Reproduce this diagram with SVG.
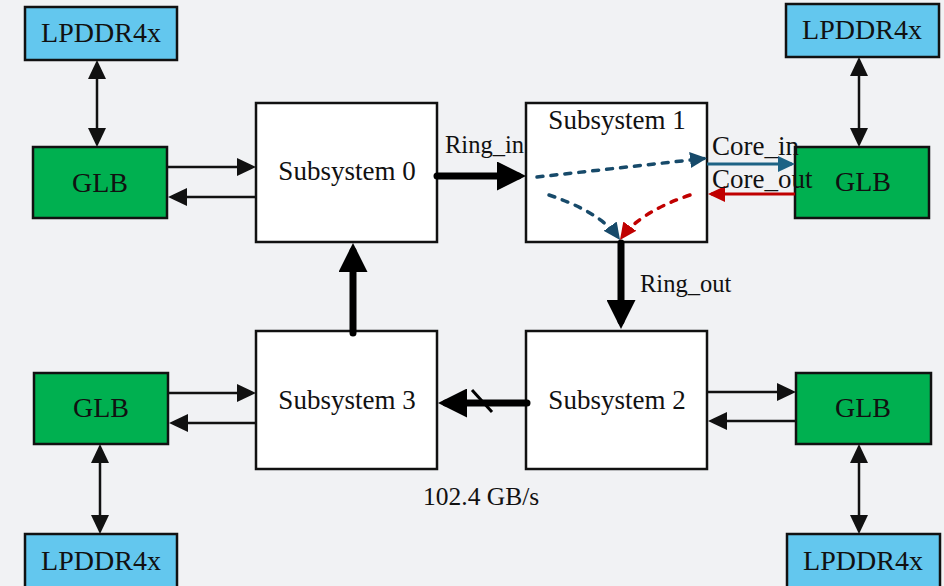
<svg xmlns="http://www.w3.org/2000/svg" width="944" height="586" viewBox="0 0 944 586">
  <style>
    text { font-family: "Liberation Serif", "Times New Roman", serif; fill: #111; }
    .box { stroke: #111; stroke-width: 2.5; }
    .sub { fill: #ffffff; }
    .glb { fill: #00b050; }
    .mem { fill: #63c7ee; }
    .lbl { font-size: 27px; text-anchor: middle; }
    .big { font-size: 28px; }
    .note { font-size: 24.5px; }
    .core { font-size: 27px; }
    .thin { stroke: #111; stroke-width: 2.5; fill: none; }
    .thick { stroke: #000; stroke-width: 7; fill: none; stroke-linecap: round; }
    .dash { stroke-width: 3.5; fill: none; stroke-dasharray: 6 8; stroke-linecap: round; }
  </style>
  <defs>
    <marker id="ah" markerUnits="userSpaceOnUse" markerWidth="19" markerHeight="18" refX="15" refY="9" orient="auto-start-reverse">
      <path d="M0,0 L19,9 L0,18 z" fill="#111"/>
    </marker>
    <marker id="ahThick" markerUnits="userSpaceOnUse" markerWidth="29" markerHeight="29" refX="21" refY="14.5" orient="auto">
      <path d="M0,0 L29,14.5 L0,29 z" fill="#000"/>
    </marker>
    <marker id="ahNavy" markerUnits="userSpaceOnUse" markerWidth="17" markerHeight="16" refX="14" refY="8" orient="auto">
      <path d="M0,0 L17,8 L0,16 z" fill="#174a6a"/>
    </marker>
    <marker id="ahBlue" markerUnits="userSpaceOnUse" markerWidth="17" markerHeight="16" refX="14" refY="8" orient="auto">
      <path d="M0,0 L17,8 L0,16 z" fill="#1d6385"/>
    </marker>
    <marker id="ahRed" markerUnits="userSpaceOnUse" markerWidth="17" markerHeight="16" refX="14" refY="8" orient="auto">
      <path d="M0,0 L17,8 L0,16 z" fill="#c00000"/>
    </marker>
  </defs>

  <rect width="944" height="586" fill="#f1f2f4"/>

  <!-- memory and buffer nodes -->
  <g id="mem-tl"><rect class="box mem" x="25" y="7" width="152" height="53"/><text class="lbl big" x="101" y="42">LPDDR4x</text></g>
  <g id="mem-tr"><rect class="box mem" x="786" y="4" width="153" height="53"/><text class="lbl big" x="862" y="39">LPDDR4x</text></g>
  <g id="mem-bl"><rect class="box mem" x="25" y="534" width="152" height="60"/><text class="lbl big" x="101" y="570">LPDDR4x</text></g>
  <g id="mem-br"><rect class="box mem" x="787" y="534" width="153" height="60"/><text class="lbl big" x="863" y="570">LPDDR4x</text></g>

  <g id="glb-tl"><rect class="box glb" x="33" y="147" width="134" height="71"/><text class="lbl big" x="100" y="192">GLB</text></g>
  <g id="glb-tr"><rect class="box glb" x="795" y="147" width="134" height="71"/><text class="lbl big" x="863" y="191">GLB</text></g>
  <g id="glb-bl"><rect class="box glb" x="34" y="373" width="134" height="71"/><text class="lbl big" x="101" y="417">GLB</text></g>
  <g id="glb-br"><rect class="box glb" x="796" y="373" width="135" height="71"/><text class="lbl big" x="863" y="417">GLB</text></g>

  <!-- subsystems -->
  <g id="sub0"><rect class="box sub" x="256" y="103" width="181" height="139"/><text class="lbl" x="347" y="180">Subsystem 0</text></g>
  <g id="sub1"><rect class="box sub" x="526" y="103" width="181" height="139"/><text class="lbl" x="617" y="129">Subsystem 1</text></g>
  <g id="sub2"><rect class="box sub" x="526" y="331" width="181" height="138"/><text class="lbl" x="617" y="409">Subsystem 2</text></g>
  <g id="sub3"><rect class="box sub" x="256" y="331" width="181" height="138"/><text class="lbl" x="347" y="409">Subsystem 3</text></g>

  <!-- connectors -->
  <g id="connectors">
    <!-- LPDDR4x <-> GLB -->
    <line class="thin" x1="97" y1="64" x2="97" y2="143" marker-start="url(#ah)" marker-end="url(#ah)"/>
    <line class="thin" x1="859" y1="61" x2="859" y2="143" marker-start="url(#ah)" marker-end="url(#ah)"/>
    <line class="thin" x1="100" y1="448" x2="100" y2="530" marker-start="url(#ah)" marker-end="url(#ah)"/>
    <line class="thin" x1="859" y1="448" x2="859" y2="530" marker-start="url(#ah)" marker-end="url(#ah)"/>

    <!-- GLB <-> subsystem -->
    <line class="thin" x1="167" y1="167" x2="252" y2="167" marker-end="url(#ah)"/>
    <line class="thin" x1="256" y1="197" x2="172" y2="197" marker-end="url(#ah)"/>
    <line class="thin" x1="168" y1="393" x2="252" y2="393" marker-end="url(#ah)"/>
    <line class="thin" x1="256" y1="423" x2="173" y2="423" marker-end="url(#ah)"/>
    <line class="thin" x1="707" y1="392" x2="792" y2="392" marker-end="url(#ah)"/>
    <line class="thin" x1="796" y1="421" x2="712" y2="421" marker-end="url(#ah)"/>

    <!-- ring -->
    <line class="thick" x1="437" y1="176" x2="518" y2="176" marker-end="url(#ahThick)"/>
    <line class="thick" x1="621" y1="243" x2="621" y2="321" marker-end="url(#ahThick)"/>
    <line class="thick" x1="527" y1="403" x2="446" y2="403" marker-end="url(#ahThick)"/>
    <line x1="472" y1="390" x2="492" y2="412" stroke="#000" stroke-width="3"/>
    <line class="thick" x1="353" y1="333" x2="353" y2="251" marker-end="url(#ahThick)"/>

    <!-- core in/out -->
    <line x1="707" y1="164" x2="792" y2="164" stroke="#1d6385" stroke-width="3" marker-end="url(#ahBlue)"/>
    <line x1="795" y1="194" x2="711" y2="194" stroke="#c00000" stroke-width="3" marker-end="url(#ahRed)"/>

    <!-- internal routing in subsystem 1 -->
    <path class="dash" stroke="#174a6a" d="M537,177 L704,158.5" marker-end="url(#ahNavy)"/>
    <path class="dash" stroke="#174a6a" d="M549,195 Q600,212 618.3,237.6" marker-end="url(#ahNavy)"/>
    <path class="dash" stroke="#c00000" d="M690,195 Q640,212 621.7,237.6" marker-end="url(#ahRed)"/>
  </g>

  <!-- labels -->
  <text class="note" x="445" y="153">Ring_in</text>
  <text class="note" x="640" y="292">Ring_out</text>
  <text class="core" x="712" y="155">Core_in</text>
  <text class="core" x="712" y="188">Core_out</text>
  <text class="note" x="423" y="505" style="font-size:25.5px">102.4 GB/s</text>
</svg>
